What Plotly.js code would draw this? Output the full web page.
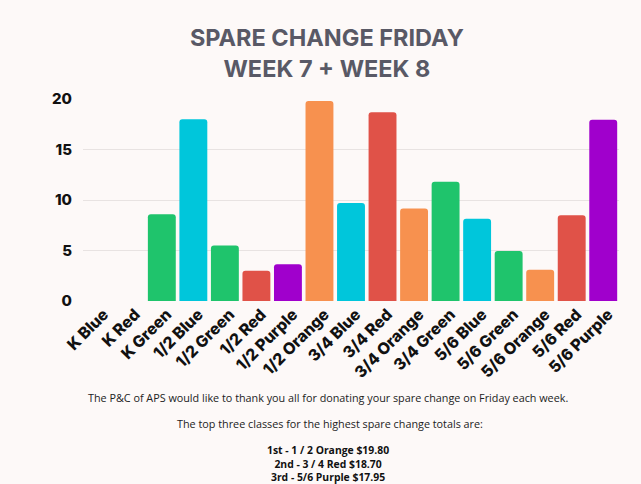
<!DOCTYPE html>
<html>
<head>
<meta charset="utf-8">
<script src="https://cdn.plot.ly/plotly-3.0.1.min.js"></script>
<style>html,body{margin:0;padding:0;background:#fdf9f8;}</style>
</head>
<body>
<div id="chart" style="width:641px;height:484px;"></div>
<script>
const categories = ["K Blue","K Red","K Green","1/2 Blue","1/2 Green","1/2 Red","1/2 Purple","1/2 Orange","3/4 Blue","3/4 Red","3/4 Orange","3/4 Green","5/6 Blue","5/6 Green","5/6 Orange","5/6 Red","5/6 Purple"];
const totals = [0, 0, 8.6, 18.0, 5.5, 3.0, 3.65, 19.80, 9.7, 18.70, 9.15, 11.8, 8.15, 4.95, 3.1, 8.5, 17.95];
const barColors = ["#00c6db","#e05248","#1fc46c","#00c6db","#1fc46c","#e05248","#a000cc","#f7914f","#00c6db","#e05248","#f7914f","#1fc46c","#00c6db","#1fc46c","#f7914f","#e05248","#a000cc"];
const yTicks = [0, 5, 10, 15, 20];
const titleText = "SPARE CHANGE FRIDAY<br>WEEK 7 + WEEK 8";
const noteLines = [
  "The P&C of APS would like to thank you all for donating your spare change on Friday each week.",
  "The top three classes for the highest spare change totals are:"
];
const podium = ["1st - 1 / 2 Orange $19.80", "2nd - 3 / 4 Red $18.70", "3rd - 5/6 Purple $17.95"];

const W = 641, H = 484;
const mT = 99, mB = 183, mL = 83, mR = 21.5;
const plotH = H - mT - mB;
function py(pix) { return (H - mB - pix) / plotH; }

const annotations = [
  {text: noteLines[0], x: 0.458, y: py(397), font: {family: "Open Sans, Noto Sans, sans-serif", size: 10.8, color: "#222"}},
  {text: noteLines[1], x: 0.461, y: py(423), font: {family: "Open Sans, Noto Sans, sans-serif", size: 10.8, color: "#222"}},
  {text: "<b>" + podium.join("<br>") + "</b>", x: 0.458, y: py(463.5), font: {family: "Open Sans, Noto Sans, sans-serif", size: 10.4, color: "#111"}}
].map(a => Object.assign({
  xref: "paper", yref: "paper", xanchor: "center", yanchor: "middle",
  showarrow: false, align: "center"
}, a));

const trace = {
  type: "bar",
  x: categories,
  y: totals,
  marker: {color: barColors, cornerradius: 3, line: {width: 0}},
  hoverinfo: "x+y"
};

const layout = {
  width: W, height: H,
  margin: {l: mL, r: mR, t: mT, b: mB, pad: 0},
  paper_bgcolor: "#fdf9f8",
  plot_bgcolor: "#fdf9f8",
  bargap: 0.115,
  showlegend: false,
  title: {
    text: titleText,
    font: {family: "Inter, Open Sans, sans-serif", size: 23.5, color: "#595966", weight: 700},
    x: 0.51, xanchor: "center",
    y: 0.905, yanchor: "top", yref: "container"
  },
  xaxis: {
    type: "category",
    tickangle: -45,
    tickfont: {family: "Inter, sans-serif", size: 16, color: "#111", weight: 800},
    showgrid: false, zeroline: false, showline: false, ticks: "",
    ticklabelshift: 5
  },
  yaxis: {
    range: [0, 20],
    tickvals: yTicks,
    ticktext: yTicks.map(String),
    tickfont: {family: "Inter, sans-serif", size: 15, color: "#111", weight: 800},
    showgrid: true, gridcolor: "#e8e3e2", gridwidth: 1,
    zeroline: false, showline: false, ticks: "",
    ticklabelstandoff: 10
  },
  annotations: annotations
};

Plotly.newPlot("chart", [trace], layout, {displayModeBar: false, staticPlot: true});
</script>
</body>
</html>
